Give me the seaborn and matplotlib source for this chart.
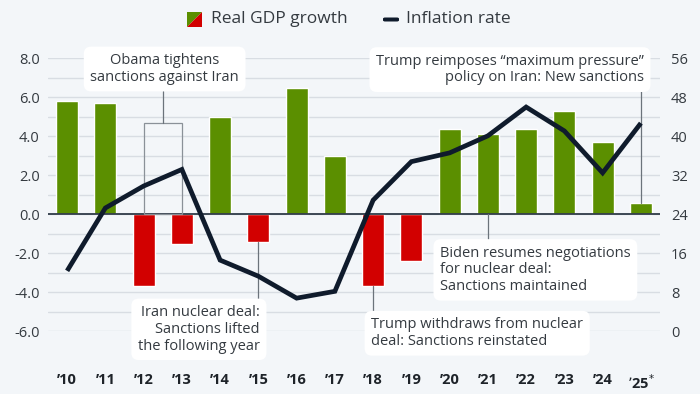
"""
Iran: real GDP growth vs. inflation rate, 2010-2025, with sanction milestones.
"""
import matplotlib

matplotlib.use("Agg")
import matplotlib.pyplot as plt
import numpy as np
import pandas as pd
import seaborn as sns
from matplotlib.patches import FancyBboxPatch, Polygon, Rectangle

years = ["’10", "’11", "’12", "’13", "’14", "’15", "’16", "’17",
         "’18", "’19", "’20", "’21", "’22", "’23", "’24", "’25$^{*}$"]
gdp_growth = [5.8, 5.7, -3.7, -1.5, 5.0, -1.4, 6.5, 3.0,
              -3.7, -2.4, 4.4, 4.1, 4.4, 5.3, 3.7, 0.6]
inflation = [12.4, 25.3, 29.8, 33.2, 14.6, 11.3, 6.8, 8.2,
             26.9, 34.8, 36.6, 40.1, 46.0, 41.1, 32.5, 42.7]
left_ticks = [-6.0, -4.0, -2.0, 0.0, 2.0, 4.0, 6.0, 8.0]
right_ticks = [0, 8, 16, 24, 32, 40, 48, 56]

GREEN = "#5b8f00"
RED = "#d20000"
NAVY = "#0f1b2c"
BG = "#f3f6f9"
TXT = "#343a40"
GRID = "#d8dde3"

df = pd.DataFrame({"year": years, "gdp": gdp_growth, "inflation": inflation})
df["sign"] = np.where(df["gdp"] >= 0, "pos", "neg")
df["pos"] = np.arange(len(df))

sns.set_theme(style="white")
plt.rcParams["font.family"] = ["Open Sans", "DejaVu Sans"]

fig = plt.figure(figsize=(7, 3.94), dpi=100, facecolor=BG)
ax = fig.add_axes([48 / 700, 1 - 331.3 / 394, 612 / 700, (331.3 - 58.3) / 394])
ax.set_facecolor(BG)

sns.barplot(data=df, x="year", y="gdp", hue="sign", order=years,
            palette={"pos": GREEN, "neg": RED}, dodge=False, width=0.58,
            legend=False, saturation=1, ax=ax, zorder=3)

ax.set_xlim(-0.5, 15.5)
ax.set_ylim(-6, 8)
ax.set_yticks(left_ticks)
ax.set_yticklabels([f"{t:.1f}" for t in left_ticks])
ax.set_yticks(np.arange(-5, 8, 2), minor=True)
ax.grid(axis="y", which="both", color=GRID, lw=1, zorder=0)
ax.axhline(0, color="#2f3b48", lw=1.3, zorder=4)
for s in ax.spines.values():
    s.set_visible(False)
ax.tick_params(axis="both", which="both", length=0)
ax.tick_params(axis="y", labelsize=10.5, labelcolor=TXT, pad=6)
ax.tick_params(axis="x", labelsize=10.5, labelcolor="#1e2329", pad=30)
for lab in ax.get_xticklabels():
    lab.set_fontweight("bold")
ax.set_xlabel("")
ax.set_ylabel("")

ax2 = ax.twinx()
sns.lineplot(data=df, x="pos", y="inflation", color=NAVY, lw=3.4, ax=ax2,
             zorder=5, solid_joinstyle="miter", solid_capstyle="butt")
ax2.set_ylim(0, 56)
ax2.set_yticks(right_ticks)
ax2.set_yticklabels([str(t) for t in right_ticks])
for s in ax2.spines.values():
    s.set_visible(False)
ax2.tick_params(axis="y", length=0, labelsize=10.5, labelcolor=TXT, pad=8)
ax2.set_ylabel("")
ax2.set_xlabel("")
ax2.grid(False)

# annotation helpers (drawn in left-axis data coordinates)
tr = ax.transData
box_kw = dict(boxstyle="round,pad=0.45,rounding_size=0.5", fc="white", ec="none")


def note(x, y, text, ha):
    ax2.text(x, y, text, transform=tr, ha=ha, va="center", fontsize=10.5,
             color=TXT, linespacing=1.15, zorder=8, clip_on=False,
             bbox=box_kw)


def leader(x, y0, y1):
    ax2.plot([x, x], [y0, y1], transform=tr, color="#6b737b", lw=0.9,
             zorder=4, clip_on=False)


ax2.add_patch(Rectangle((2, 0), 1, 4.7, transform=tr, fill=False,
                        ec="#8a9198", lw=0.9, zorder=4))
leader(2.5, 4.7, 6.3)
note(2.55, 7.45, "Obama tightens\nsanctions against Iran", "center")

leader(5, -1.4, -4.4)
note(5.04, -5.9, "Iran nuclear deal:\nSanctions lifted\nthe following year", "right")

leader(8, -3.7, -5.0)
note(7.95, -6.1, "Trump withdraws from nuclear\ndeal: Sanctions reinstated", "left")

leader(11, 0, -1.3)
note(9.75, -2.85, "Biden resumes negotiations\nfor nuclear deal:\nSanctions maintained", "left")

leader(15, 0.6, 6.3)
note(15.08, 7.42, "Trump reimposes \u201cmaximum pressure\u201d\npolicy on Iran: New sanctions", "right")

# legend
def px(x, y):
    return (x / 700, 1 - y / 394)


fig.patches.append(Polygon([px(187, 27), px(187, 12), px(202, 12)],
                           closed=True, transform=fig.transFigure, fc=GREEN, ec="none"))
fig.patches.append(Polygon([px(187, 27), px(202, 12), px(202, 27)],
                           closed=True, transform=fig.transFigure, fc=RED, ec="none"))
fig.text(*px(211, 19), "Real GDP growth", ha="left", va="center",
         fontsize=12.5, color=TXT)
fig.patches.append(FancyBboxPatch(px(383, 21.5), 16 / 700, 4 / 394,
                                  boxstyle="round,pad=0,rounding_size=0.003",
                                  transform=fig.transFigure, fc=NAVY, ec="none"))
fig.text(*px(406, 19), "Inflation rate", ha="left", va="center",
         fontsize=12.5, color=TXT)

fig.savefig("out.png", dpi=100, facecolor=BG)
plt.close(fig)
